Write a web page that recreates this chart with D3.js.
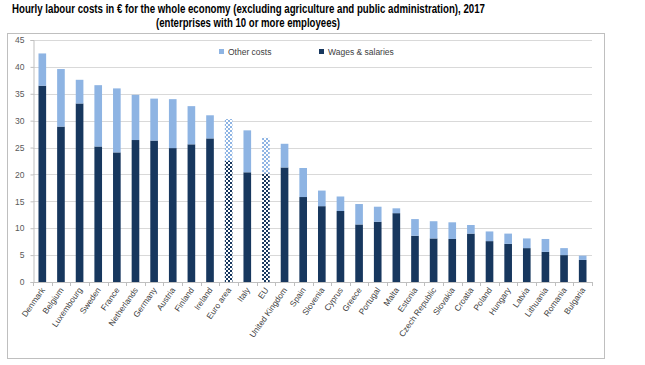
<!DOCTYPE html>
<html>
<head>
<meta charset="utf-8">
<script src="https://cdn.jsdelivr.net/npm/d3@7"></script>
<style>
  body { margin: 0; background: #fff; }
  svg { display: block; }
</style>
</head>
<body>
<div id="chart"></div>
<script>
// categories, in the order of the picture
let countries = ["Denmark", "Belgium", "Luxembourg", "Sweden", "France", "Netherlands",
  "Germany", "Austria", "Finland", "Ireland", "Euro area", "Italy", "EU", "United Kingdom",
  "Spain", "Slovenia", "Cyprus", "Greece", "Portugal", "Malta", "Estonia", "Czech Republic",
  "Slovakia", "Croatia", "Poland", "Hungary", "Latvia", "Lithuania", "Romania", "Bulgaria"];

let wages = [36.5, 28.9, 33.2, 25.2, 24.1, 26.4, 26.3, 24.9, 25.6, 26.7, 22.5, 20.4, 20.2, 21.3,
  15.8, 14.1, 13.2, 10.7, 11.2, 12.8, 8.6, 8.1, 8.0, 9.0, 7.6, 7.1, 6.3, 5.6, 5.0, 4.1];

let otherCosts = [6.0, 10.7, 4.4, 11.4, 11.9, 8.4, 7.8, 9.1, 7.1, 4.3, 7.8, 7.8, 6.6, 4.4,
  5.4, 2.9, 2.7, 3.8, 2.8, 0.9, 3.1, 3.2, 3.1, 1.6, 1.8, 1.9, 1.8, 2.4, 1.3, 0.8];

let aggregates = ["Euro area", "EU"];
let yTicks = [0, 5, 10, 15, 20, 25, 30, 35, 40, 45];

let dark = "#17375e", light = "#8eb4e3";

let width = 645, height = 365;
let margin = {left: 33, right: 53, top: 40, bottom: 83};

let svg = d3.select("#chart").append("svg")
    .attr("width", width)
    .attr("height", height);

// checkered fills for the aggregates
let defs = svg.append("defs");
[["checkDark", dark], ["checkLight", light]].forEach(([id, c]) => {
  let p = defs.append("pattern")
      .attr("id", id)
      .attr("width", 4).attr("height", 4)
      .attr("patternUnits", "userSpaceOnUse");
  p.append("rect").attr("width", 4).attr("height", 4).attr("fill", "#fff");
  p.append("rect").attr("width", 2).attr("height", 2).attr("fill", c);
  p.append("rect").attr("x", 2).attr("y", 2).attr("width", 2).attr("height", 2).attr("fill", c);
});

// outer frame
svg.append("rect")
    .attr("x", 7.5).attr("y", 33.5)
    .attr("width", 597).attr("height", 325)
    .attr("fill", "none")
    .attr("stroke", "#bfbfbf");

// title - narrow font is not installed, so squeeze the lines to the reference width
let titleFont = "'Liberation Sans', Arial, sans-serif";
svg.append("text")
    .attr("x", 12).attr("y", 13)
    .attr("font-family", titleFont)
    .attr("font-weight", "bold")
    .attr("font-size", 12.5)
    .attr("textLength", 473)
    .attr("lengthAdjust", "spacingAndGlyphs")
    .text("Hourly labour costs in € for the whole economy (excluding agriculture and public administration), 2017");
svg.append("text")
    .attr("x", 156).attr("y", 27)
    .attr("font-family", titleFont)
    .attr("font-weight", "bold")
    .attr("font-size", 12.5)
    .attr("textLength", 184)
    .attr("lengthAdjust", "spacingAndGlyphs")
    .text("(enterprises with 10 or more employees)");

let x = d3.scaleBand()
    .domain(countries)
    .range([margin.left, width - margin.right])
    .paddingInner(0.59)
    .paddingOuter(0.295);

let y = d3.scaleLinear()
    .domain([0, 45])
    .range([height - margin.bottom, margin.top]);

// gridlines
svg.append("g")
  .selectAll("line")
  .data(yTicks.slice(1))
  .join("line")
    .attr("x1", margin.left).attr("x2", width - margin.right)
    .attr("y1", d => Math.round(y(d)) + 0.5).attr("y2", d => Math.round(y(d)) + 0.5)
    .attr("stroke", "#d9d9d9");

// y axis
let yAxis = svg.append("g")
    .attr("transform", `translate(${margin.left + 0.5},0)`)
    .call(d3.axisLeft(y).tickValues(yTicks).tickSize(3).tickPadding(6));
yAxis.select(".domain").attr("stroke", "#bfbfbf");
yAxis.selectAll(".tick line").attr("stroke", "#bfbfbf");
yAxis.selectAll(".tick text")
    .attr("fill", "#595959")
    .attr("font-family", "'Liberation Sans', Arial, sans-serif")
    .attr("font-size", 8.5);

// stacked bars
let rows = countries.map((c, i) => ({country: c, wages: wages[i], other: otherCosts[i]}));
let series = d3.stack().keys(["wages", "other"])(rows);

let fillFor = (key, country) => {
  let agg = aggregates.includes(country);
  if (key === "wages") return agg ? "url(#checkDark)" : dark;
  return agg ? "url(#checkLight)" : light;
};

svg.append("g")
  .selectAll("g")
  .data(series)
  .join("g")
  .selectAll("rect")
  .data(s => s.map(d => ({key: s.key, d: d})))
  .join("rect")
    .attr("x", v => x(v.d.data.country))
    .attr("width", x.bandwidth())
    .attr("y", v => y(v.d[1]))
    .attr("height", v => y(v.d[0]) - y(v.d[1]))
    .attr("fill", v => fillFor(v.key, v.d.data.country));

// x axis with ticks between categories
let x0 = height - margin.bottom;
let xg = svg.append("g");
xg.append("line")
    .attr("x1", margin.left).attr("x2", width - margin.right)
    .attr("y1", x0 + 0.5).attr("y2", x0 + 0.5)
    .attr("stroke", "#bfbfbf");
let step = x.step();
xg.selectAll(".sep")
  .data(d3.range(countries.length + 1))
  .join("line")
    .attr("class", "sep")
    .attr("x1", i => Math.round(margin.left + i * step) + 0.5)
    .attr("x2", i => Math.round(margin.left + i * step) + 0.5)
    .attr("y1", x0).attr("y2", x0 + 4)
    .attr("stroke", "#bfbfbf");

xg.selectAll(".lab")
  .data(countries)
  .join("text")
    .attr("class", "lab")
    .attr("text-anchor", "end")
    .attr("font-family", "'Liberation Sans', Arial, sans-serif")
    .attr("font-size", 8.3)
    .attr("fill", "#404040")
    .attr("transform", d => `translate(${x(d) + x.bandwidth() / 2 + 3},${x0 + 8}) rotate(-55)`)
    .text(d => d);

// legend
let legend = svg.append("g")
    .attr("font-family", "'Liberation Sans', Arial, sans-serif")
    .attr("font-size", 8.5)
    .attr("fill", "#404040");
[["Other costs", light, 219], ["Wages & salaries", dark, 319]].forEach(([label, c, lx]) => {
  legend.append("rect").attr("x", lx).attr("y", 49).attr("width", 5).attr("height", 5).attr("fill", c);
  legend.append("text").attr("x", lx + 9).attr("y", 55).text(label);
});
</script>
</body>
</html>
